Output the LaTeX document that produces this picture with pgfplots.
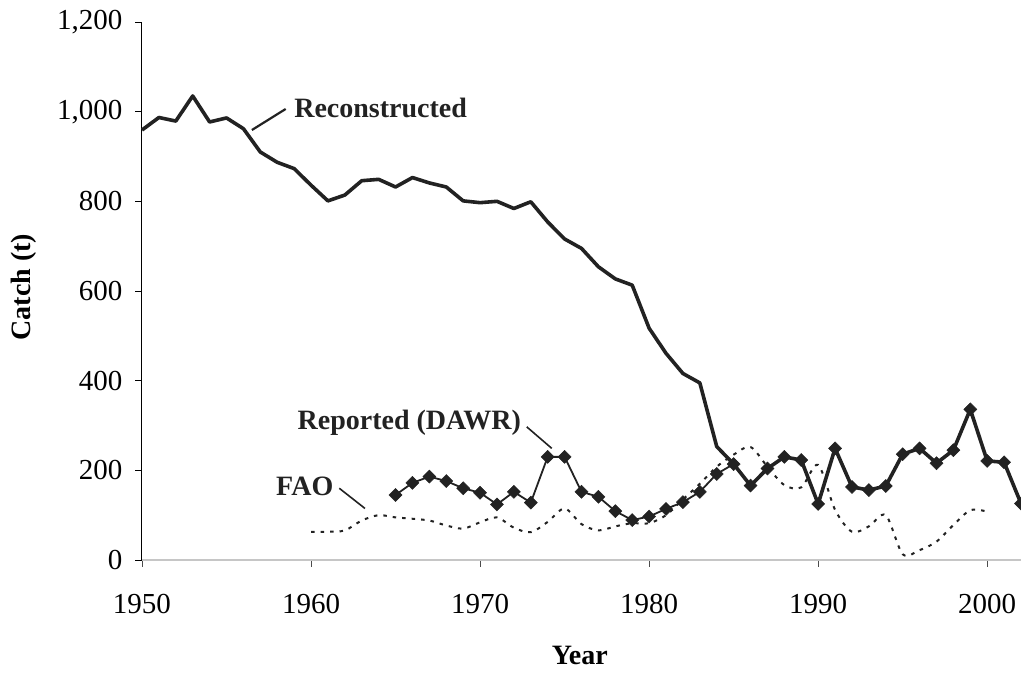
\documentclass[border=0pt]{standalone}
\usepackage{fontspec}
\setmainfont{Liberation Serif}
\usepackage{pgfplots}
\pgfplotsset{compat=1.18}
\begin{document}
\begin{tikzpicture}
\definecolor{ink}{HTML}{222222}
\begin{axis}[
  name=ax,
  scale only axis,
  width=879pt, height=538pt,
  xmin=1950, xmax=2002, ymin=0, ymax=1200,
  axis x line*=bottom, axis y line*=left,
  x axis line style={-, gray!45, line width=1.2pt},
  y axis line style={-, black, line width=1pt},
  xtick={1950,1960,1970,1980,1990,2000},
  ytick={0,200,400,600,800,1000,1200},
  tick align=outside, major tick length=7pt,
  x tick style={black!70, line width=0.8pt},
  y tick style={black, line width=0.8pt},
  /pgf/number format/assume math mode=true,
  x tick label style={font=\fontsize{29}{32}\selectfont, /pgf/number format/.cd, set thousands separator={}},
  y tick label style={font=\fontsize{29}{32}\selectfont, /pgf/number format/.cd, set thousands separator={,}},
  xticklabel shift=24pt,
  yticklabel shift=9pt,
  xlabel={Year},
  ylabel={Catch (t)},
  xlabel style={font=\bfseries\fontsize{28}{30}\selectfont, at={(axis description cs:0.498,-0.177)}, anchor=center},
  ylabel style={font=\bfseries\fontsize{28}{30}\selectfont, at={(axis description cs:-0.134,0.507)}, anchor=center},
  clip=false,
]
% FAO
\addplot[ink, line width=2pt, dash pattern=on 3.5pt off 6pt, smooth] coordinates {
(1960,63) (1961,63) (1962,66) (1963,88) (1964,100) (1965,95) (1966,92) (1967,88)
(1968,77) (1969,70) (1970,84) (1971,95) (1972,72) (1973,62) (1974,85) (1975,115)
(1976,80) (1977,66) (1978,75) (1979,82) (1980,82) (1981,100) (1982,135) (1983,170)
(1984,208) (1985,235) (1986,252) (1987,208) (1988,167) (1989,162) (1990,212)
(1991,112) (1992,63) (1993,75) (1994,100) (1995,13) (1996,22) (1997,41) (1998,78)
(1999,111) (2000,108)
};
% Reconstructed
\addplot[ink, line width=3.6pt, line join=round] coordinates {
(1950,959) (1951,987) (1952,979) (1953,1035) (1954,977) (1955,986) (1956,962)
(1957,910) (1958,887) (1959,873) (1960,836) (1961,801) (1962,814) (1963,846)
(1964,849) (1965,832) (1966,853) (1967,841) (1968,832) (1969,801) (1970,797)
(1971,800) (1972,784) (1973,799) (1974,754) (1975,716) (1976,695) (1977,654)
(1978,627) (1979,613) (1980,517) (1981,461) (1982,416) (1983,395) (1984,253)
(1985,214) (1986,166) (1987,204) (1988,230) (1989,223) (1990,125) (1991,249)
(1992,163) (1993,156) (1994,165) (1995,236) (1996,249) (1997,216) (1998,245)
(1999,336) (2000,221) (2001,218) (2002,126)
};
% Reported (DAWR)
\addplot[ink, line width=1.8pt, mark=square*, mark size=4.6pt, mark options={rotate=45, fill=ink, draw=ink, line width=0.5pt}] coordinates {
(1965,145) (1966,172) (1967,186) (1968,176) (1969,160) (1970,150) (1971,124)
(1972,152) (1973,128) (1974,230) (1975,230) (1976,152) (1977,141) (1978,109)
(1979,89) (1980,97) (1981,114) (1982,129) (1983,152) (1984,192) (1985,214)
(1986,166) (1987,204) (1988,230) (1989,223) (1990,125) (1991,249) (1992,163)
(1993,156) (1994,165) (1995,236) (1996,249) (1997,216) (1998,245) (1999,336)
(2000,221) (2001,218) (2002,126)
};
% annotations
\node[anchor=west, inner sep=0pt, font=\bfseries\fontsize{28}{32}\selectfont, text=ink] at (axis cs:1959.0,1008) {Reconstructed};
\draw[ink, line width=2.2pt] (axis cs:1956.5,959) -- (axis cs:1958.5,1006);
\node[anchor=west, inner sep=0pt, font=\bfseries\fontsize{28}{32}\selectfont, text=ink] at (axis cs:1959.2,306) {Reported (DAWR)};
\draw[ink, line width=1.6pt] (axis cs:1972.76,297) -- (axis cs:1974.24,249);
\node[anchor=west, inner sep=0pt, font=\bfseries\fontsize{28}{32}\selectfont, text=ink] at (axis cs:1957.93,165) {FAO};
\draw[ink, line width=1.6pt] (axis cs:1961.67,160) -- (axis cs:1963.19,115);
\end{axis}
\pgfresetboundingbox
\path ([xshift=-142pt,yshift=-113pt]ax.south west) rectangle ([yshift=22pt]ax.north east);
\end{tikzpicture}
\end{document}
